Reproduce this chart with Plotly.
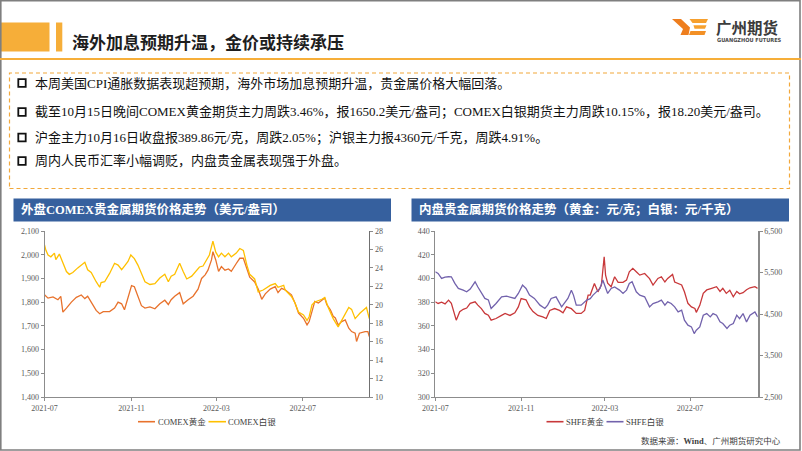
import plotly.graph_objects as go

W, H = 802, 451


def px(x):
    return x / W


def py(y):
    return 1 - y / H


# ---------------- data ----------------
comex_gold_dates = [
    "2021-07-01", "2021-07-06", "2021-07-13", "2021-07-20", "2021-07-24", "2021-07-27",
    "2021-08-01", "2021-08-08", "2021-08-15", "2021-08-22", "2021-08-27", "2021-08-31",
    "2021-09-05", "2021-09-12", "2021-09-17", "2021-09-22", "2021-10-01", "2021-10-08",
    "2021-10-13", "2021-10-18", "2021-10-22", "2021-10-27", "2021-11-01", "2021-11-05",
    "2021-11-10", "2021-11-15", "2021-11-20", "2021-11-27", "2021-12-04", "2021-12-11",
    "2021-12-18", "2021-12-23", "2021-12-27", "2022-01-01", "2022-01-08", "2022-01-13",
    "2022-01-20", "2022-01-27", "2022-02-03", "2022-02-08", "2022-02-13", "2022-02-17",
    "2022-02-22", "2022-02-24", "2022-02-28", "2022-03-04", "2022-03-08", "2022-03-13",
    "2022-03-18", "2022-03-22", "2022-03-29", "2022-04-03", "2022-04-08", "2022-04-13",
    "2022-04-17", "2022-04-24", "2022-04-29", "2022-05-04", "2022-05-09", "2022-05-16",
    "2022-05-23", "2022-05-27", "2022-06-01", "2022-06-06", "2022-06-15", "2022-06-20",
    "2022-06-25", "2022-07-02", "2022-07-07", "2022-07-10", "2022-07-14", "2022-07-18",
    "2022-07-23", "2022-07-28", "2022-08-01", "2022-08-04", "2022-08-09", "2022-08-13",
    "2022-08-16", "2022-08-20", "2022-08-25", "2022-08-30", "2022-09-04", "2022-09-08",
    "2022-09-13", "2022-09-15", "2022-09-19", "2022-09-27", "2022-10-01", "2022-10-03",
]
comex_gold = [
    1831, 1817, 1822, 1810, 1824, 1758,
    1775, 1800, 1820, 1830, 1815, 1825,
    1800, 1765, 1751, 1760, 1760, 1775,
    1800, 1793, 1768, 1820, 1870, 1865,
    1820, 1785, 1775, 1780, 1772, 1793,
    1808, 1790, 1810, 1825, 1840, 1793,
    1810, 1825, 1855, 1900, 1915, 1935,
    1978, 2013, 1978, 1930, 1950, 1935,
    1940, 1930, 1963, 1985, 1985, 1940,
    1905, 1885, 1855, 1812, 1835, 1855,
    1865, 1840, 1858, 1852, 1831, 1796,
    1754, 1732, 1704, 1718, 1760, 1803,
    1796, 1810, 1817, 1789, 1768, 1740,
    1733, 1704, 1718, 1725, 1690, 1676,
    1669, 1634, 1669, 1676, 1676, 1655,
]

comex_silver_dates = [
    "2021-07-01", "2021-07-03", "2021-07-06", "2021-07-10", "2021-07-15", "2021-07-17",
    "2021-07-22", "2021-07-27", "2021-08-01", "2021-08-05", "2021-08-10", "2021-08-17",
    "2021-08-22", "2021-08-27", "2021-08-31", "2021-09-05", "2021-09-12", "2021-09-17",
    "2021-09-19", "2021-09-24", "2021-10-01", "2021-10-08", "2021-10-13", "2021-10-18",
    "2021-10-22", "2021-10-27", "2021-10-31", "2021-11-05", "2021-11-10", "2021-11-15",
    "2021-11-20", "2021-11-27", "2021-12-04", "2021-12-11", "2021-12-18", "2021-12-23",
    "2021-12-27", "2022-01-01", "2022-01-08", "2022-01-13", "2022-01-18", "2022-01-25",
    "2022-02-01", "2022-02-05", "2022-02-10", "2022-02-15", "2022-02-19", "2022-02-24",
    "2022-02-28", "2022-03-04", "2022-03-08", "2022-03-13", "2022-03-18", "2022-03-22",
    "2022-03-29", "2022-04-03", "2022-04-08", "2022-04-13", "2022-04-17", "2022-04-24",
    "2022-04-29", "2022-05-06", "2022-05-16", "2022-05-23", "2022-05-27", "2022-06-04",
    "2022-06-06", "2022-06-15", "2022-06-20", "2022-06-25", "2022-07-02", "2022-07-07",
    "2022-07-10", "2022-07-14", "2022-07-18", "2022-07-28", "2022-08-01", "2022-08-06",
    "2022-08-13", "2022-08-20", "2022-08-25", "2022-08-30", "2022-09-04", "2022-09-08",
    "2022-09-13", "2022-09-20", "2022-09-29", "2022-10-03",
]
comex_silver = [
    26.5, 25.9, 25.4, 25.2, 25.6, 24.9,
    25.5, 24.5, 23.6, 23.3, 23.5, 24.0,
    24.3, 24.6, 23.8, 23.5, 22.5, 21.9,
    22.4, 22.5, 23.4, 24.5, 24.3, 23.8,
    24.2, 24.7, 25.4, 25.0, 24.3, 23.3,
    22.5, 22.2, 22.3, 22.9, 23.3, 22.5,
    23.1, 23.3, 24.5, 23.6, 22.8, 23.1,
    23.8, 24.1, 24.2, 24.8, 25.4, 26.9,
    25.7, 25.2, 25.6, 25.2, 25.6, 25.2,
    25.6, 26.1, 25.9, 24.3, 23.3, 22.8,
    21.4, 21.6, 22.1, 22.3, 21.9, 22.1,
    21.6, 20.9, 20.2, 19.2, 18.9, 18.3,
    18.7, 20.0, 20.3, 20.6, 20.8, 19.7,
    18.5, 17.6, 18.3, 19.1, 19.7, 19.5,
    18.5, 19.1, 19.7, 18.5,
]

shfe_gold_dates = [
    "2021-07-01", "2021-07-05", "2021-07-10", "2021-07-15", "2021-07-20", "2021-07-24",
    "2021-07-31", "2021-08-05", "2021-08-10", "2021-08-15", "2021-08-20", "2021-08-27",
    "2021-08-31", "2021-09-05", "2021-09-10", "2021-09-15", "2021-09-19", "2021-09-26",
    "2021-10-04", "2021-10-09", "2021-10-16", "2021-10-23", "2021-10-28", "2021-11-01",
    "2021-11-08", "2021-11-13", "2021-11-18", "2021-11-25", "2021-12-02", "2021-12-07",
    "2021-12-12", "2021-12-19", "2021-12-26", "2021-12-31", "2022-01-05", "2022-01-12",
    "2022-01-19", "2022-01-26", "2022-01-31", "2022-02-05", "2022-02-08", "2022-02-14",
    "2022-02-19", "2022-02-24", "2022-02-28", "2022-03-02", "2022-03-05", "2022-03-10",
    "2022-03-15", "2022-03-20", "2022-03-27", "2022-04-01", "2022-04-05", "2022-04-10",
    "2022-04-15", "2022-04-20", "2022-04-27", "2022-05-04", "2022-05-09", "2022-05-16",
    "2022-05-21", "2022-05-26", "2022-05-30", "2022-06-06", "2022-06-09", "2022-06-14",
    "2022-06-19", "2022-06-23", "2022-06-28", "2022-07-03", "2022-07-08", "2022-07-10",
    "2022-07-15", "2022-07-20", "2022-07-25", "2022-08-01", "2022-08-08", "2022-08-13",
    "2022-08-17", "2022-08-22", "2022-08-27", "2022-09-01", "2022-09-06", "2022-09-10",
    "2022-09-15", "2022-09-20", "2022-09-25", "2022-10-02", "2022-10-06",
]
shfe_gold = [
    380.3, 378.9, 380.0, 378.5, 381.7, 379.0,
    364.8, 372.0, 374.0, 375.0, 379.0, 380.3,
    377.5, 374.5, 370.5, 369.0, 364.8, 366.2,
    368.8, 370.5, 368.8, 371.0, 376.0, 383.0,
    382.0, 376.0, 372.0, 368.8, 367.5, 366.2,
    373.0, 374.6, 373.0, 371.0, 376.0, 374.5,
    370.5, 370.5, 373.0, 386.0, 386.0, 395.8,
    388.7, 394.4, 418.3, 402.8, 396.0, 393.0,
    401.4, 396.7, 396.7, 398.6, 405.6, 408.5,
    405.6, 402.8, 404.2, 399.8, 394.4, 400.0,
    401.4, 397.0, 400.0, 403.4, 397.0, 396.0,
    394.5, 388.7, 379.0, 376.0, 374.7, 371.4,
    377.3, 387.4, 390.3, 391.6, 393.0, 389.0,
    391.6, 387.4, 390.0, 384.5, 389.0, 387.0,
    388.0, 390.5, 392.1, 393.0, 391.6,
]

shfe_silver_dates = [
    "2021-07-01", "2021-07-05", "2021-07-10", "2021-07-15", "2021-07-20", "2021-07-24",
    "2021-07-29", "2021-08-03", "2021-08-10", "2021-08-15", "2021-08-20", "2021-08-27",
    "2021-08-31", "2021-09-05", "2021-09-10", "2021-09-15", "2021-09-19", "2021-09-26",
    "2021-10-04", "2021-10-11", "2021-10-16", "2021-10-23", "2021-10-28", "2021-11-03",
    "2021-11-08", "2021-11-13", "2021-11-20", "2021-11-28", "2021-12-05", "2021-12-09",
    "2021-12-14", "2021-12-21", "2021-12-29", "2022-01-03", "2022-01-07", "2022-01-12",
    "2022-01-15", "2022-01-19", "2022-01-26", "2022-02-03", "2022-02-08", "2022-02-12",
    "2022-02-17", "2022-02-22", "2022-02-26", "2022-03-02", "2022-03-05", "2022-03-10",
    "2022-03-15", "2022-03-22", "2022-03-27", "2022-04-01", "2022-04-05", "2022-04-09",
    "2022-04-15", "2022-04-20", "2022-04-27", "2022-05-04", "2022-05-09", "2022-05-16",
    "2022-05-21", "2022-05-26", "2022-05-30", "2022-06-04", "2022-06-09", "2022-06-14",
    "2022-06-19", "2022-06-23", "2022-06-28", "2022-07-03", "2022-07-07", "2022-07-10",
    "2022-07-15", "2022-07-20", "2022-07-25", "2022-07-30", "2022-08-03", "2022-08-08",
    "2022-08-13", "2022-08-17", "2022-08-23", "2022-08-27", "2022-09-01", "2022-09-06",
    "2022-09-10", "2022-09-15", "2022-09-20", "2022-09-25", "2022-10-02", "2022-10-06",
]
shfe_silver = [
    5517, 5478, 5358, 5390, 5397, 5396,
    5237, 5116, 5076, 5035, 5100, 5276,
    5150, 4995, 4875, 4840, 4633, 4754,
    4914, 4930, 4914, 4875, 4995, 5196,
    5116, 4955, 4875, 4713, 4633, 4713,
    4875, 4914, 4673, 4794, 4875, 5075,
    4955, 4713, 4713, 4835, 4870, 4955,
    5035, 5116, 5317, 5156, 4995, 5116,
    5150, 5076, 4995, 5076, 5237, 5277,
    5035, 4955, 4914, 4672, 4750, 4793,
    4833, 4713, 4793, 4753, 4672, 4552,
    4592, 4351, 4230, 4190, 4029, 4110,
    4190, 4471, 4511, 4431, 4511, 4471,
    4310, 4270, 4150, 4230, 4270, 4471,
    4390, 4511, 4310, 4471, 4551, 4431,
]

series_names = ["COMEX黄金", "COMEX白银", "SHFE黄金", "SHFE白银"]
x_tick_labels = ["2021-07", "2021-11", "2022-03", "2022-07"]

page_title = "海外加息预期升温，金价或持续承压"
bullets = [
    "本周美国CPI通胀数据表现超预期，海外市场加息预期升温，贵金属价格大幅回落。",
    "截至10月15日晚间COMEX黄金期货主力周跌3.46%，报1650.2美元/盎司；COMEX白银期货主力周跌10.15%，报18.20美元/盎司。",
    "沪金主力10月16日收盘报389.86元/克，周跌2.05%；沪银主力报4360元/千克，周跌4.91%。",
    "周内人民币汇率小幅调贬，内盘贵金属表现强于外盘。",
]
left_title = "外盘COMEX贵金属期货价格走势（美元/盎司）"
right_title = "内盘贵金属期货价格走势（黄金：元/克；白银：元/千克）"
source_text = "数据来源：<b>Wind</b>、广州期货研究中心"

# ---------------- styles ----------------
C_GOLD_L = "#E8722C"
C_SILVER_L = "#FFC000"
C_GOLD_R = "#C8383A"
C_SILVER_R = "#7262AC"
C_ORANGE = "#F6AE39"
C_BLUE = "#36609E"
AX = "#8C8C8C"
SERIF = "Liberation Serif, Times New Roman, Noto Sans CJK SC, serif"
SANS = "Noto Sans CJK SC, sans-serif"
tickfont = dict(family=SERIF, size=8, color="#595959")

fig = go.Figure()
fig.add_trace(go.Scatter(x=comex_gold_dates, y=comex_gold, name=series_names[0], mode="lines",
                         line=dict(color=C_GOLD_L, width=1.3), xaxis="x", yaxis="y", showlegend=False))
fig.add_trace(go.Scatter(x=comex_silver_dates, y=comex_silver, name=series_names[1], mode="lines",
                         line=dict(color=C_SILVER_L, width=1.3), xaxis="x", yaxis="y2", showlegend=False))
fig.add_trace(go.Scatter(x=shfe_gold_dates, y=shfe_gold, name=series_names[2], mode="lines",
                         line=dict(color=C_GOLD_R, width=1.3), xaxis="x2", yaxis="y3", showlegend=False))
fig.add_trace(go.Scatter(x=shfe_silver_dates, y=shfe_silver, name=series_names[3], mode="lines",
                         line=dict(color=C_SILVER_R, width=1.3), xaxis="x2", yaxis="y4", showlegend=False))


def xax(domain, anchor, end):
    return dict(domain=domain, anchor=anchor, type="date", range=["2021-07-01", end],
                tickvals=["2021-07-01", "2021-11-01", "2022-03-01", "2022-07-01"],
                ticktext=x_tick_labels, showline=True, linecolor=AX, linewidth=1,
                ticks="outside", ticklen=3, tickcolor=AX, showgrid=False, zeroline=False,
                tickfont=tickfont, fixedrange=True, automargin=False)


def yax(rng, dtick, **kw):
    d = dict(range=rng, tick0=rng[0], dtick=dtick, tickformat=",", showline=True, linecolor=AX,
             linewidth=1, ticks="outside", ticklen=3, tickcolor=AX, showgrid=False, zeroline=False,
             tickfont=tickfont, fixedrange=True, automargin=False)
    d.update(kw)
    return d


ydom = [py(397), py(231)]
fig.update_layout(
    template="none",
    width=W, height=H, autosize=False,
    margin=dict(l=0, r=0, t=0, b=0, pad=0, autoexpand=False),
    paper_bgcolor="white", plot_bgcolor="white",
    hovermode=False, showlegend=False,
    xaxis=xax([px(44.5), px(369.3)], "y", "2022-10-03"),
    yaxis=yax([1400, 2100], 100, domain=ydom, anchor="x"),
    yaxis2=yax([10, 28], 2, overlaying="y", side="right", anchor="x", linecolor="#707070"),
    xaxis2=xax([px(435.3), px(757.7)], "y3", "2022-10-06"),
    yaxis3=yax([300, 440], 20, domain=ydom, anchor="x2"),
    yaxis4=yax([2500, 6500], 1000, overlaying="y3", side="right", anchor="x2",
               linewidth=2, linecolor="#8A8A8A"),
)

shapes = []
ann = []


def rect(x0, y0, x1, y1, fill=None, line=None, lw=0, dash=None, layer="above"):
    s = dict(type="rect", xref="paper", yref="paper", x0=px(x0), x1=px(x1), y0=py(y1), y1=py(y0),
             layer=layer)
    if fill:
        s["fillcolor"] = fill
    s["line"] = dict(width=lw, color=line or "rgba(0,0,0,0)")
    if dash:
        s["line"]["dash"] = dash
    shapes.append(s)


def hline(x0, x1, y, color, lw):
    shapes.append(dict(type="line", xref="paper", yref="paper", x0=px(x0), x1=px(x1),
                       y0=py(y), y1=py(y), line=dict(color=color, width=lw)))


def poly(pts, fill):
    path = "M" + " L".join(f"{px(x):.5f},{py(y):.5f}" for x, y in pts) + " Z"
    shapes.append(dict(type="path", xref="paper", yref="paper", path=path, fillcolor=fill,
                       line=dict(width=0)))


def text(x, y, s, size, color="#000", family=SERIF, xanchor="left"):
    ann.append(dict(xref="paper", yref="paper", x=px(x), y=py(y), text=s, showarrow=False,
                    xanchor=xanchor, yanchor="middle", font=dict(size=size, color=color, family=family)))


# frame
rect(0.8, 0.8, 800, 450, line="#7F7F7F", lw=1.6)
# header
rect(0, 22.5, 49.5, 51.5, fill=C_ORANGE, layer="below")
rect(56, 22.5, 62.3, 51.5, fill=C_ORANGE, layer="below")
hline(0, 801, 59, "#F6AE39", 2)
text(70, 41.5, f"<b>{page_title}</b>", 17, color="#1E1E1E", family=SANS)

# logo
poly([(672, 19), (681, 19), (690, 27.5), (688.5, 35), (680.5, 35), (683, 29)], "#EE7E1E")
poly([(689.5, 19), (708, 19), (706, 23), (692.5, 23)], "#F6A02E")
poly([(693.5, 25.3), (706.5, 25.3), (705, 28.8), (694.5, 28.8)], "#F6A02E")
poly([(690.5, 31), (706, 31), (704.5, 35), (689, 35)], "#F39025")
text(714, 27, "<b>广州期货</b>", 15.5, color="#3C3C3C", family=SANS)
text(715, 39.8, "<b>GUANGZHOU FUTURES</b>", 5.6, color="#4A4A4A", family="DejaVu Sans Condensed, Liberation Sans, sans-serif")

# bullet box
rect(9.5, 73, 789.5, 188.5, line="#F2A83A", lw=1.2, dash="4px,3px")
bullet_y = [83, 112, 137.5, 161]
for yy, s in zip(bullet_y, bullets):
    rect(18.3, yy - 3.8, 25.7, yy + 3.8, line="#111111", lw=1.8)
    text(32.5, yy, s, 13, color="#111111")

# chart title bars
rect(13.5, 198.5, 391, 221.5, fill=C_BLUE, layer="below")
rect(411.5, 198.5, 789, 221.5, fill=C_BLUE, layer="below")
text(18.5, 210, f"<b>{left_title}</b>", 12.5, color="white")
text(416.5, 210, f"<b>{right_title}</b>", 12.5, color="white")

# legends (manual)
leg_y = 421.7
hline(138, 155, leg_y, C_GOLD_L, 1.6)
text(155.5, leg_y, series_names[0], 8.5, color="#404040")
hline(208.5, 226, leg_y, C_SILVER_L, 1.6)
text(226.5, leg_y, series_names[1], 8.5, color="#404040")
hline(546.5, 563.5, leg_y, C_GOLD_R, 1.6)
text(563.5, leg_y, series_names[2], 8.5, color="#404040")
hline(606.5, 623.5, leg_y, C_SILVER_R, 1.6)
text(623.5, leg_y, series_names[3], 8.5, color="#404040")

# source
text(783, 441, source_text, 8.5, color="#404040", xanchor="right")

fig.update_layout(shapes=shapes, annotations=ann)
fig.write_html("out.html", config={"displayModeBar": False, "staticPlot": True},
               post_script="document.body.style.margin='0';document.body.style.overflow='hidden';")
